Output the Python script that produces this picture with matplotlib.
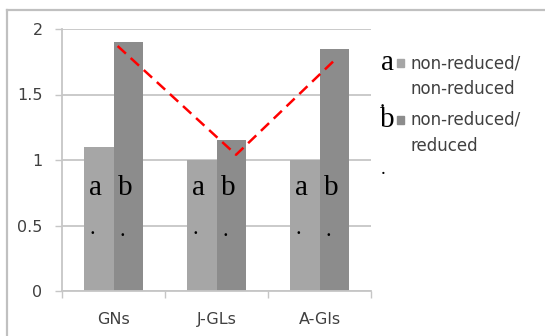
import matplotlib
matplotlib.use('Agg')
import matplotlib.pyplot as plt
import numpy as np
from matplotlib.lines import Line2D
from matplotlib.patches import Rectangle

categories = ['GNs', 'J-GLs', 'A-Gls']
nonred_nonred = [1.10, 1.00, 1.00]
nonred_red = [1.90, 1.15, 1.85]
legend_labels = ['non-reduced/\nnon-reduced', 'non-reduced/\nreduced']
trend_x = [0.04, 1.19, 2.17]
trend_y = [1.87, 1.04, 1.78]
yticks = [0, 0.5, 1, 1.5, 2]
ytick_labels = ['0', '0.5', '1', '1.5', '2']

W, H = 545, 336
fig = plt.figure(figsize=(W / 100, H / 100), dpi=100)
fig.patch.set_facecolor('white')


def px(x, y):
    return x / W, 1 - y / H


ax = fig.add_axes([62 / W, 1 - 291 / H, 309 / W, 262 / H])

c_a = '#a6a6a6'
c_b = '#8c8c8c'
grey = '#c6c6c6'
txt = '#404040'
serif = 'Liberation Serif'
w = 0.286
x = np.arange(len(categories))
ax.bar(x - w / 2, nonred_nonred, w, color=c_a, zorder=2)
ax.bar(x + w / 2, nonred_red, w, color=c_b, zorder=2)
ax.plot(trend_x, trend_y, color='red', lw=1.8, ls=(0, (4.5, 2.6)), zorder=3)

# letters on the bars
for i in x:
    ax.text(i - w / 2 - 0.03, 0.79, 'a', family=serif, fontsize=21,
            ha='center', va='center', zorder=4)
    ax.text(i + w / 2 - 0.03, 0.79, 'b', family=serif, fontsize=21,
            ha='center', va='center', zorder=4)
    ax.text(i - w / 2 - 0.06, 0.435, '.', family=serif, fontsize=16,
            ha='center', va='baseline', zorder=4)
    ax.text(i + w / 2 - 0.06, 0.42, '.', family=serif, fontsize=16,
            ha='center', va='baseline', zorder=4)

ax.set_xlim(-0.5, 2.5)
ax.set_ylim(0, 2)
ax.set_yticks(yticks)
ax.set_yticklabels(ytick_labels)
ax.set_xticks([-0.5, 0.5, 1.5, 2.5])
ax.set_xticklabels([])
ax.set_xticks(x, minor=True)
ax.set_xticklabels(categories, minor=True)
ax.tick_params(axis='x', which='major', length=5, width=1, color=grey)
ax.tick_params(axis='x', which='minor', length=0, pad=15, labelsize=11.5, labelcolor=txt)
ax.tick_params(axis='y', length=5, width=1, color=grey, pad=9, labelsize=11.5, labelcolor=txt)
ax.grid(axis='y', color=grey, lw=1.3, zorder=0)
ax.set_axisbelow(True)
for s in ['top', 'right']:
    ax.spines[s].set_visible(False)
for s in ['left', 'bottom']:
    ax.spines[s].set_color(grey)
    ax.spines[s].set_linewidth(1.3)

# manual legend
colors = [c_a, c_b]
rows = [63, 120]
for lab, col, y, letter in zip(legend_labels, colors, rows, ['a', 'b']):
    fig.text(*px(387, y), letter, family=serif, fontsize=21,
             ha='center', va='center')
    fig.add_artist(Rectangle(px(397, y + 3.5), 7 / W, 7 / H, color=col,
                             transform=fig.transFigure))
    fig.text(*px(410, y - 9), lab, fontsize=12, color=txt, ha='left', va='top',
             linespacing=1.6)
fig.text(*px(382, 107), '.', family=serif, fontsize=15, ha='center', va='baseline')
fig.text(*px(383, 174), '.', family=serif, fontsize=14, ha='center', va='baseline')

# outer chart frame
fig.add_artist(Line2D([7 / W, 7 / W], [0, 1 - 10 / H], color='#c0c0c0', lw=1.6,
                      transform=fig.transFigure))
fig.add_artist(Line2D([7 / W, 1], [1 - 10 / H, 1 - 10 / H], color='#c0c0c0', lw=1.6,
                      transform=fig.transFigure))

fig.savefig('out.png', dpi=100)
